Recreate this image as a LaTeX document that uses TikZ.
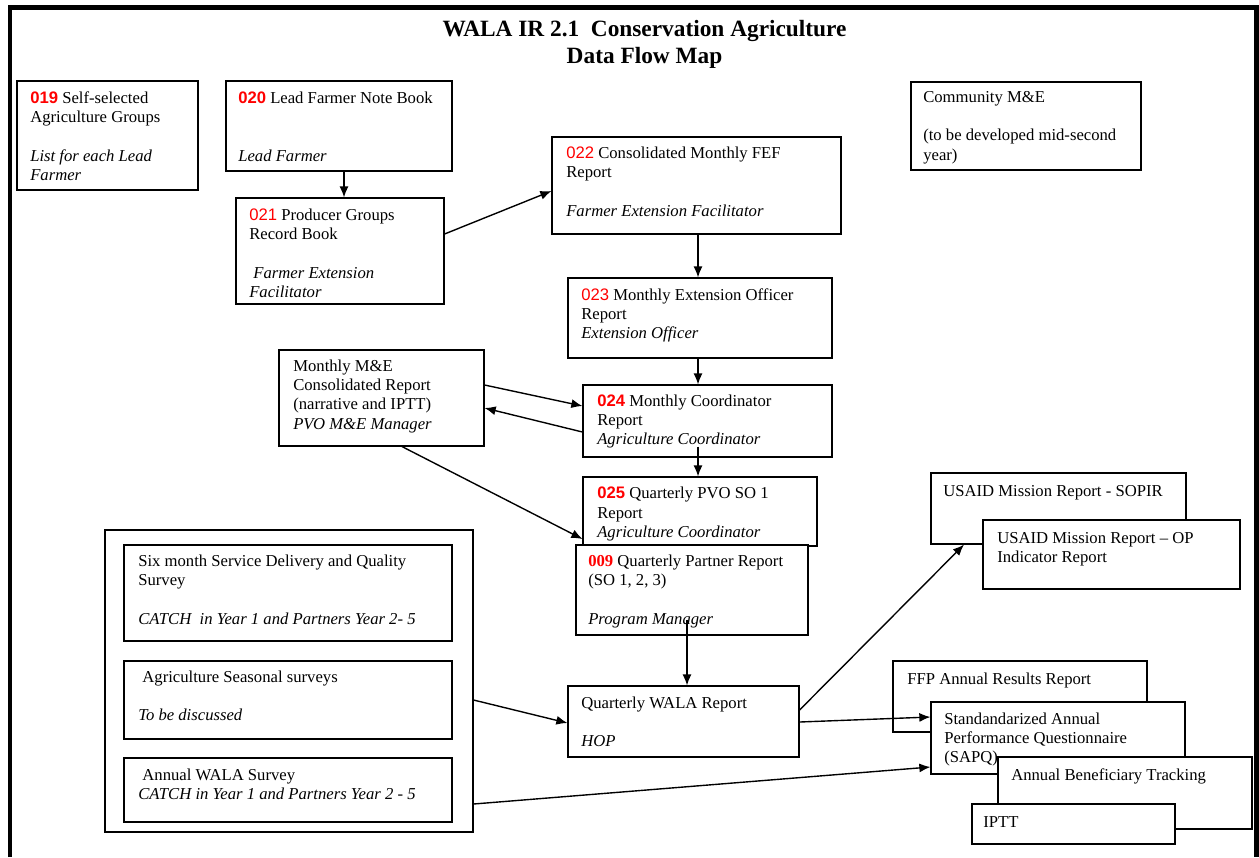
\documentclass[tikz,border=0pt]{standalone}
\usepackage{fontspec}
\setmainfont{Liberation Serif}
\setsansfont{Liberation Sans}
\usetikzlibrary{fit,calc,arrows.meta}
\newcommand\numb[1]{{\sffamily\bfseries\color{red}#1}}
\newcommand\numr[1]{{\sffamily\color{red}#1}}
\newcommand\nums[1]{{\bfseries\color{red}#1}}
\begin{document}
\begin{tikzpicture}[x=0.72pt,y=-0.72pt,
  box/.style={draw, line width=0.8pt, fill=white, inner sep=0pt},
  txt/.style={anchor=north west, inner sep=0pt, align=left, font=\fontsize{12}{13.9}\selectfont},
  ttl/.style={anchor=base, inner sep=0pt, font=\fontsize{16.8}{19}\selectfont\bfseries},
  arr/.style={-{Latex[length=8pt,width=6.5pt]}, line width=1pt},
  frameline/.style={line width=3.2pt, line join=miter}]
\useasboundingbox (0,0) rectangle (1259,857);
\draw[frameline] (10,857) -- (10,7.5) -- (1256.5,7.5) -- (1256.5,857);

\node[ttl] (title1) at (644.5,36) {WALA IR 2.1\ \ Conservation Agriculture};
\node[ttl] (title2) at (644.5,63) {Data Flow Map};

% survey group
\node[box, fit={(105,530) (473,832)}] (bsurv) {};
\node[box, fit={(124,545) (452,641)}] (b6m) {};
\node[txt] (t6m) at (138,552.5) {\strut Six month Service Delivery and Quality\\Survey\\[\baselineskip]\textit{CATCH\ \ in Year 1 and Partners Year 2- 5}};
\node[box, fit={(124,661) (452,739)}] (bags) {};
\node[txt] (tags) at (138,668.5) {\strut\hspace*{3pt}Agriculture Seasonal surveys\\[\baselineskip]\textit{To be discussed}};
\node[box, fit={(124,758) (452,822)}] (bann) {};
\node[txt] (tann) at (138,766.5) {\strut\hspace*{3pt}Annual WALA Survey\\\textit{CATCH in Year 1 and Partners Year 2 - 5}};

% top row
\node[box, fit={(17,81) (198,190)}] (b019) {};
\node[txt] (t019) at (30,89.5) {\strut\numb{019} Self-selected\\Agriculture Groups\\[\baselineskip]\textit{List for each Lead}\\\textit{Farmer}};
\node[box, fit={(226,81) (452,171)}] (b020) {};
\node[txt] (t020) at (238,89.5) {\strut\numb{020} Lead Farmer Note Book\\[2\baselineskip]\textit{Lead Farmer}};
\node[box, fit={(236,198) (444,304)}] (b021) {};
\node[txt] (t021) at (249,206.5) {\strut\numr{021} Producer Groups\\Record Book\\[\baselineskip]\hspace*{3pt}\textit{Farmer Extension}\\\textit{Facilitator}};
\node[box, fit={(552,137) (841,234)}] (b022) {};
\node[txt] (t022) at (566,144.5) {\strut\numr{022} Consolidated Monthly FEF\\Report\\[\baselineskip]\textit{Farmer Extension Facilitator}};
\node[box, fit={(568,278) (832,358)}] (b023) {};
\node[txt] (t023) at (581,286.5) {\strut\numr{023} Monthly Extension Officer\\Report\\\textit{Extension Officer}};
\node[box, fit={(911,82) (1141,170)}] (bcom) {};
\node[txt] (tcom) at (923,88.5) {\strut Community M\&E\\[\baselineskip](to be developed mid-second\\year)};

% middle
\node[box, fit={(279,350) (484,446)}] (bme) {};
\node[txt] (tme) at (293,357.5) {\strut Monthly M\&E\\Consolidated Report\\(narrative and IPTT)\\\textit{PVO M\&E Manager}};
\node[box, fit={(583,385) (832,457)}] (b024) {};
\node[txt] (t024) at (597,392.5) {\strut\numb{024} Monthly Coordinator\\Report\\\textit{Agriculture Coordinator}};
\node[box, fit={(583,477) (817,546)}] (b025) {};
\node[txt] (t025) at (597,485) {\strut\numb{025} Quarterly PVO SO 1\\Report\\\textit{Agriculture Coordinator}};
\node[box, fit={(576,545) (808,635)}] (b009) {};
\node[txt] (t009) at (588,552.5) {\strut\nums{009} Quarterly Partner Report\\(SO 1, 2, 3)\\[\baselineskip]\textit{Program Manager}};
\node[box, fit={(568,686) (799,757)}] (bwala) {};
\node[txt] (twala) at (581,694.5) {\strut Quarterly WALA Report\\[\baselineskip]\textit{HOP}};

% right
\node[box, fit={(931,473) (1186,544)}] (bsopir) {};
\node[txt] (tsopir) at (943,482.5) {\strut USAID Mission Report - SOPIR};
\node[box, fit={(983,520) (1240,589)}] (bop) {};
\node[txt] (top) at (997,529.5) {\strut USAID Mission Report -- OP\\Indicator Report};
\node[box, fit={(893,661) (1147,732)}] (bffp) {};
\node[txt] (tffp) at (907,670.5) {\strut FFP Annual Results Report};
\node[box, fit={(931,702) (1185,774)}] (bsapq) {};
\node[txt] (tsapq) at (944,710.5) {\strut Standandarized Annual\\Performance Questionnaire\\(SAPQ)};
\node[box, fit={(998,757) (1252,829)}] (babt) {};
\node[txt] (tabt) at (1011,766.5) {\strut Annual Beneficiary Tracking};
\node[box, fit={(972,804) (1175,844)}] (biptt) {};
\node[txt] (tiptt) at (983,813.5) {\strut IPTT};

% connectors
\draw[arr] (344,0 |- b020.south) -- (344,0 |- b021.north);
\draw[arr] (b021.east |- 0,234) -- (b022.west |- 0,191);
\draw[arr] (698,0 |- b022.south) -- (698,0 |- b023.north);
\draw[arr] (698,0 |- b023.south) -- (698,0 |- b024.north);
\draw[arr] ($(698,0 |- b024.south)+(0,-11)$) -- (698,0 |- b025.north);
\draw[arr] (bme.east |- 0,385) -- (b024.west |- 0,406);
\draw[arr] (b024.west |- 0,432) -- (bme.east |- 0,408);
\draw[arr] (402,0 |- bme.south) -- (b025.west |- 0,539);
\draw[arr] ($(687,0 |- b009.south)+(0,-16)$) -- (687,0 |- bwala.north);
\draw[arr] (bsurv.east |- 0,700) -- (bwala.west |- 0,723);
\draw[arr] (bwala.east |- 0,710) -- (964,0 |- bsopir.south);
\draw[arr] (bwala.east |- 0,722) -- (bsapq.west |- 0,717);
\draw[arr] (bsurv.east |- 0,804) -- (bsapq.west |- 0,767);
\end{tikzpicture}
\end{document}
